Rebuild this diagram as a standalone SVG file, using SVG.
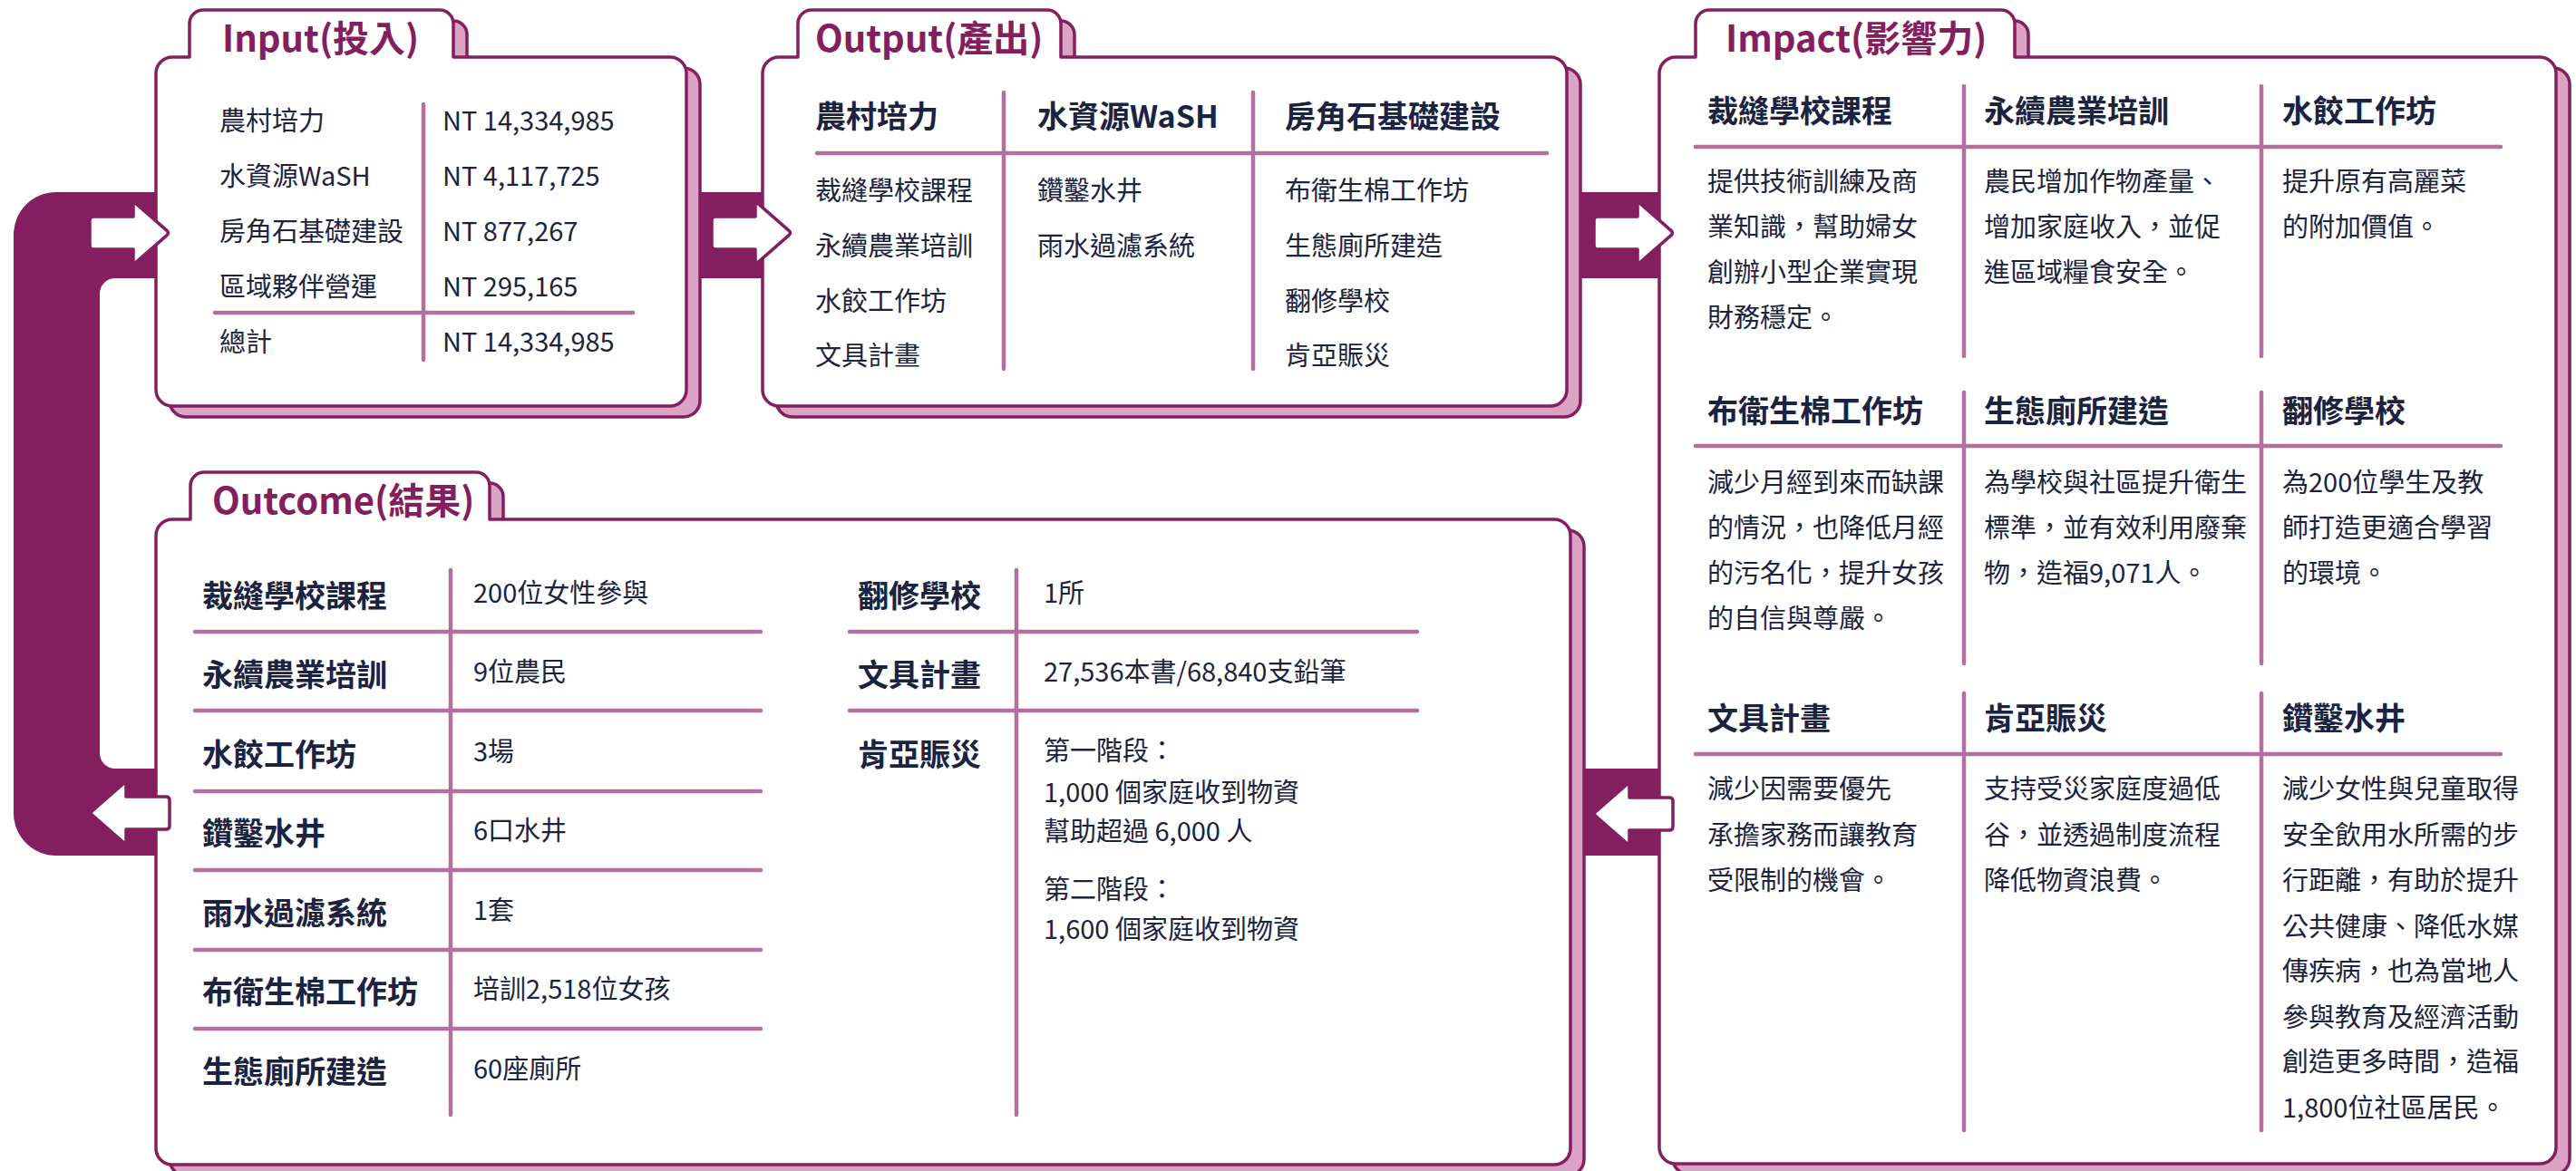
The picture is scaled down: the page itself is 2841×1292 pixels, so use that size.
<svg xmlns="http://www.w3.org/2000/svg" xmlns:xlink="http://www.w3.org/1999/xlink" width="2841" height="1292" viewBox="0 0 2841 1292">
<style>
.box{fill:#fff;stroke:#841F5F;stroke-width:3.5;stroke-linejoin:round}
.shadow{fill:#DBA3C5;stroke:#841F5F;stroke-width:3.5;stroke-linejoin:round}
.dv{stroke:#B3709F;stroke-width:4.5;stroke-linecap:round;fill:none}
.t{font-family:"Noto Sans CJK TC","Noto Sans CJK SC",sans-serif;fill:#1B2340;font-size:29px}
.h{font-weight:700;font-size:34px}
.title{font-family:"Noto Sans CJK TC","Noto Sans CJK SC",sans-serif;font-weight:700;font-size:40px;fill:#841F5F}
.band{fill:#841F5F}
.arrow{fill:#fff;stroke:#841F5F;stroke-width:3.5;stroke-linejoin:round}
</style>
<defs>
<path id="arr" d="M -84 -18 H -40 V -31 Q -40 -35 -37 -32.4 L -3 -2.6 Q 0 0 -3 2.6 L -37 32.4 Q -40 35 -40 31 V 18 H -84 Q -88 18 -88 14 V -14 Q -88 -18 -84 -18 Z"/>
<path id="sIn" d="M 172 81 A 18 18 0 0 1 190 63 H 209 V 26 A 15 15 0 0 1 224 11 H 485 A 15 15 0 0 1 500 26 V 63 H 739 A 18 18 0 0 1 757 81 V 430 A 18 18 0 0 1 739 448 H 190 A 18 18 0 0 1 172 430 Z"/>
<path id="sOut" d="M 841 81 A 18 18 0 0 1 859 63 H 880 V 26 A 15 15 0 0 1 895 11 H 1155 A 15 15 0 0 1 1170 26 V 63 H 1710 A 18 18 0 0 1 1728 81 V 430 A 18 18 0 0 1 1710 448 H 859 A 18 18 0 0 1 841 430 Z"/>
<path id="sImp" d="M 1830 81 A 18 18 0 0 1 1848 63 H 1870 V 26 A 15 15 0 0 1 1885 11 H 2207 A 15 15 0 0 1 2222 26 V 63 H 2801 A 18 18 0 0 1 2819 81 V 1266 A 18 18 0 0 1 2801 1284 H 1848 A 18 18 0 0 1 1830 1266 Z"/>
<path id="sOc" d="M 172 591 A 18 18 0 0 1 190 573 H 210 V 536 A 15 15 0 0 1 225 521 H 525 A 15 15 0 0 1 540 536 V 573 H 1714 A 18 18 0 0 1 1732 591 V 1267 A 18 18 0 0 1 1714 1285 H 190 A 18 18 0 0 1 172 1267 Z"/>
</defs>
<rect width="2841" height="1292" fill="#fff"/>

<g id="band">
<path class="band" d="M 1840 212 H 62 A 47 47 0 0 0 15 259 V 897 A 47 47 0 0 0 62 944 H 1840 V 848 H 127 A 17 17 0 0 1 110 831 V 324 A 17 17 0 0 1 127 307 H 1840 Z"/>
</g>

<g id="input">
<use xlink:href="#sIn" class="shadow" transform="translate(15,12)"/>
<use xlink:href="#sIn" class="box"/>
<text class="title" x="245" y="57">Input(投入)</text>
<line class="dv" x1="467" y1="115" x2="467" y2="397"/>
<line class="dv" x1="237" y1="345" x2="698" y2="345"/>
<g class="t">
<text x="242" y="144">農村培力</text><text x="488" y="144">NT 14,334,985</text>
<text x="242" y="205">水資源WaSH</text><text x="488" y="205">NT 4,117,725</text>
<text x="242" y="266">房角石基礎建設</text><text x="488" y="266">NT 877,267</text>
<text x="242" y="327">區域夥伴營運</text><text x="488" y="327">NT 295,165</text>
<text x="242" y="388">總計</text><text x="488" y="388">NT 14,334,985</text>
</g>
</g>

<g id="output">
<use xlink:href="#sOut" class="shadow" transform="translate(15,12)"/>
<use xlink:href="#sOut" class="box"/>
<text class="title" x="899" y="57">Output(產出)</text>
<line class="dv" x1="1107" y1="102" x2="1107" y2="407"/>
<line class="dv" x1="1382" y1="102" x2="1382" y2="407"/>
<line class="dv" x1="901" y1="169" x2="1706" y2="169"/>
<g class="t">
<text class="h" x="899" y="141">農村培力</text>
<text class="h" x="1144" y="141">水資源WaSH</text>
<text class="h" x="1417" y="141">房角石基礎建設</text>
<text x="899" y="221">裁縫學校課程</text>
<text x="899" y="282">永續農業培訓</text>
<text x="899" y="343">水餃工作坊</text>
<text x="899" y="403">文具計畫</text>
<text x="1144" y="221">鑽鑿水井</text>
<text x="1144" y="282">雨水過濾系統</text>
<text x="1417" y="221">布衛生棉工作坊</text>
<text x="1417" y="282">生態廁所建造</text>
<text x="1417" y="343">翻修學校</text>
<text x="1417" y="403">肯亞賑災</text>
</g>
</g>

<g id="impact">
<use xlink:href="#sImp" class="shadow" transform="translate(15,12)"/>
<use xlink:href="#sImp" class="box"/>
<text class="title" x="1903" y="57">Impact(影響力)</text>
<line class="dv" x1="2166" y1="95" x2="2166" y2="393"/>
<line class="dv" x1="2494" y1="95" x2="2494" y2="393"/>
<line class="dv" x1="1870" y1="162" x2="2758" y2="162"/>
<line class="dv" x1="2166" y1="433" x2="2166" y2="732"/>
<line class="dv" x1="2494" y1="433" x2="2494" y2="732"/>
<line class="dv" x1="1870" y1="492" x2="2758" y2="492"/>
<line class="dv" x1="2166" y1="765" x2="2166" y2="1247"/>
<line class="dv" x1="2494" y1="765" x2="2494" y2="1247"/>
<line class="dv" x1="1870" y1="832" x2="2758" y2="832"/>
<g class="t">
<text class="h" x="1883" y="135">裁縫學校課程</text>
<text class="h" x="2188" y="135">永續農業培訓</text>
<text class="h" x="2517" y="135">水餃工作坊</text>
<text x="1883" y="211">提供技術訓練及商</text>
<text x="1883" y="261">業知識，幫助婦女</text>
<text x="1883" y="311">創辦小型企業實現</text>
<text x="1883" y="361">財務穩定。</text>
<text x="2188" y="211">農民增加作物產量、</text>
<text x="2188" y="261">增加家庭收入，並促</text>
<text x="2188" y="311">進區域糧食安全。</text>
<text x="2517" y="211">提升原有高麗菜</text>
<text x="2517" y="261">的附加價值。</text>

<text class="h" x="1883" y="466">布衛生棉工作坊</text>
<text class="h" x="2188" y="466">生態廁所建造</text>
<text class="h" x="2517" y="466">翻修學校</text>
<text x="1883" y="543">減少月經到來而缺課</text>
<text x="1883" y="593">的情況，也降低月經</text>
<text x="1883" y="643">的污名化，提升女孩</text>
<text x="1883" y="693">的自信與尊嚴。</text>
<text x="2188" y="543">為學校與社區提升衛生</text>
<text x="2188" y="593">標準，並有效利用廢棄</text>
<text x="2188" y="643">物，造福9,071人。</text>
<text x="2517" y="543">為200位學生及教</text>
<text x="2517" y="593">師打造更適合學習</text>
<text x="2517" y="643">的環境。</text>

<text class="h" x="1883" y="805">文具計畫</text>
<text class="h" x="2188" y="805">肯亞賑災</text>
<text class="h" x="2517" y="805">鑽鑿水井</text>
<text x="1883" y="881">減少因需要優先</text>
<text x="1883" y="932">承擔家務而讓教育</text>
<text x="1883" y="982">受限制的機會。</text>
<text x="2188" y="881">支持受災家庭度過低</text>
<text x="2188" y="932">谷，並透過制度流程</text>
<text x="2188" y="982">降低物資浪費。</text>
<text x="2517" y="881">減少女性與兒童取得</text>
<text x="2517" y="932">安全飲用水所需的步</text>
<text x="2517" y="982">行距離，有助於提升</text>
<text x="2517" y="1033">公共健康、降低水媒</text>
<text x="2517" y="1082">傳疾病，也為當地人</text>
<text x="2517" y="1133">參與教育及經濟活動</text>
<text x="2517" y="1182">創造更多時間，造福</text>
<text x="2517" y="1233">1,800位社區居民。</text>
</g>
</g>

<g id="outcome">
<use xlink:href="#sOc" class="shadow" transform="translate(15,12)"/>
<use xlink:href="#sOc" class="box"/>
<text class="title" x="234" y="567">Outcome(結果)</text>
<line class="dv" x1="497" y1="629" x2="497" y2="1230"/>
<line class="dv" x1="1121" y1="629" x2="1121" y2="1230"/>
<g class="dv">
<line x1="215" y1="697" x2="839" y2="697"/>
<line x1="215" y1="784" x2="839" y2="784"/>
<line x1="215" y1="873" x2="839" y2="873"/>
<line x1="215" y1="960" x2="839" y2="960"/>
<line x1="215" y1="1048" x2="839" y2="1048"/>
<line x1="215" y1="1135" x2="839" y2="1135"/>
<line x1="937" y1="697" x2="1563" y2="697"/>
<line x1="937" y1="784" x2="1563" y2="784"/>
</g>
<g class="t">
<text class="h" x="223" y="670">裁縫學校課程</text>
<text class="h" x="223" y="757">永續農業培訓</text>
<text class="h" x="223" y="845">水餃工作坊</text>
<text class="h" x="223" y="932">鑽鑿水井</text>
<text class="h" x="223" y="1020">雨水過濾系統</text>
<text class="h" x="223" y="1107">布衛生棉工作坊</text>
<text class="h" x="223" y="1195">生態廁所建造</text>
<text x="522" y="665">200位女性參與</text>
<text x="522" y="752">9位農民</text>
<text x="522" y="840">3場</text>
<text x="522" y="927">6口水井</text>
<text x="522" y="1015">1套</text>
<text x="522" y="1102">培訓2,518位女孩</text>
<text x="522" y="1190">60座廁所</text>
<text class="h" x="946" y="670">翻修學校</text>
<text class="h" x="946" y="757">文具計畫</text>
<text class="h" x="946" y="845">肯亞賑災</text>
<text x="1151" y="665">1所</text>
<text x="1151" y="752">27,536本書/68,840支鉛筆</text>
<text x="1151" y="839">第一階段：</text>
<text x="1151" y="885">1,000 個家庭收到物資</text>
<text x="1151" y="928">幫助超過 6,000 人</text>
<text x="1151" y="992">第二階段：</text>
<text x="1151" y="1036">1,600 個家庭收到物資</text>
</g>
</g>

<g id="connectors">
<use xlink:href="#arr" class="arrow" transform="translate(187,257)"/>
<use xlink:href="#arr" class="arrow" transform="translate(873,257)"/>
<use xlink:href="#arr" class="arrow" transform="translate(1846,257)"/>
<use xlink:href="#arr" class="arrow" transform="translate(1757,898) scale(-1,1)"/>
<use xlink:href="#arr" class="arrow" transform="translate(99,897) scale(-1,1)"/>
</g>
</svg>
